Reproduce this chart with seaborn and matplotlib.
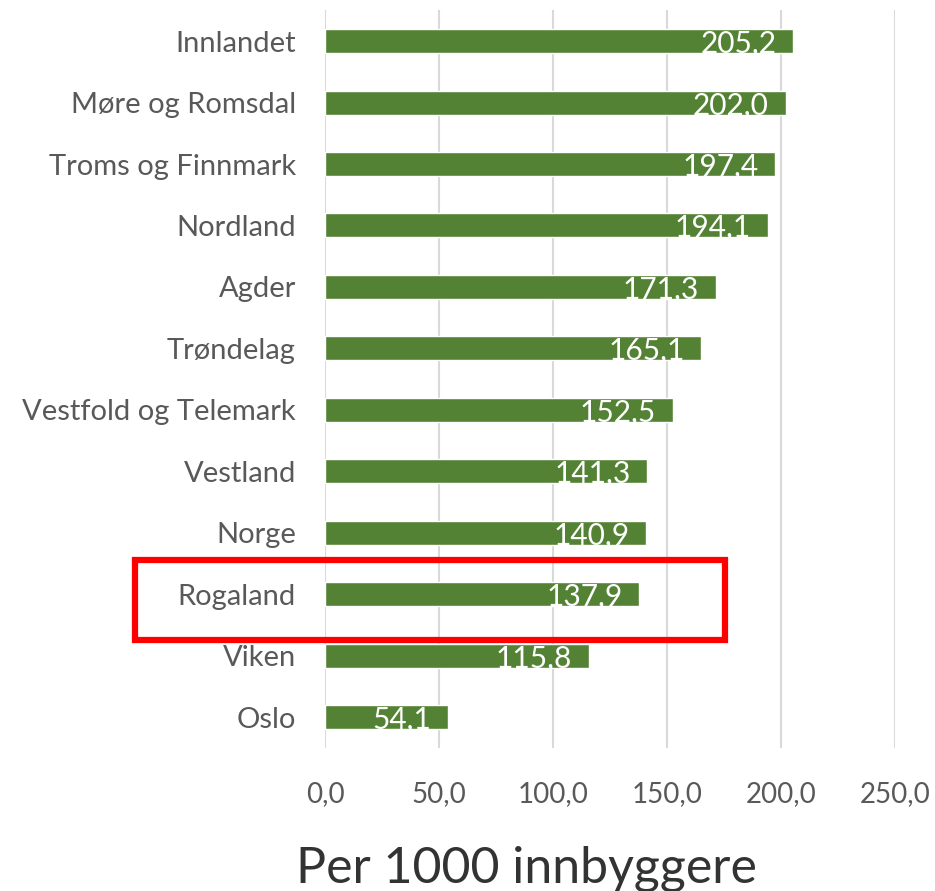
"""Horizontal bar chart: per 1000 innbyggere by fylke, Rogaland highlighted."""
import matplotlib.pyplot as plt
import matplotlib.patches as mpatches
import seaborn as sns

REGIONS = [
    "Innlandet", "Møre og Romsdal", "Troms og Finnmark", "Nordland", "Agder",
    "Trøndelag", "Vestfold og Telemark", "Vestland", "Norge", "Rogaland",
    "Viken", "Oslo",
]
VALUES = [205.2, 202.0, 197.4, 194.1, 171.3, 165.1, 152.5, 141.3, 140.9, 137.9, 115.8, 54.1]
X_TICKS = [0, 50, 100, 150, 200, 250]

GREEN = "#548235"
GREY_TEXT = "#595959"


def fmt(v: float) -> str:
    return f"{v:.1f}".replace(".", ",")


def main() -> None:
    sns.set_theme(style="white")
    plt.rcParams["font.family"] = ["Lato", "DejaVu Sans"]

    fig = plt.figure(figsize=(9.35, 8.91), dpi=100)
    ax = fig.add_axes([0.3476, 0.1605, 0.6096, 0.8279])

    sns.barplot(x=VALUES, y=REGIONS, color=GREEN, width=0.39, saturation=1,
                orient="h", ax=ax)

    ax.set_xlim(0, 250)
    ax.set_xticks(X_TICKS)
    ax.set_xticklabels([fmt(t) for t in X_TICKS])
    ax.xaxis.grid(True, color="#D9D9D9", linewidth=1.5)
    ax.set_axisbelow(True)
    for s in ax.spines.values():
        s.set_visible(False)

    ax.tick_params(axis="x", length=0, pad=24, labelsize=20, labelcolor=GREY_TEXT)
    ax.tick_params(axis="y", length=0, pad=21, labelsize=21, labelcolor=GREY_TEXT)
    ax.set_ylabel("")
    ax.set_xlabel("Per 1000 innbyggere", fontsize=36, color="#333333")
    ax.xaxis.set_label_coords(0.353, -0.132)

    for i, v in enumerate(VALUES):
        ax.annotate(fmt(v), xy=(v, i), xytext=(-12, -2), textcoords="offset points",
                    ha="right", va="center", color="white", fontsize=21.5)

    # red highlight box around Rogaland
    box = mpatches.Rectangle((135 / 935, 1 - 640 / 891), 590 / 935, 80 / 891,
                             transform=fig.transFigure, fill=False,
                             edgecolor="#FF0000", linewidth=4.5, clip_on=False)
    fig.patches.append(box)

    fig.savefig("out.png", dpi=100)
    plt.close(fig)


if __name__ == "__main__":
    main()
